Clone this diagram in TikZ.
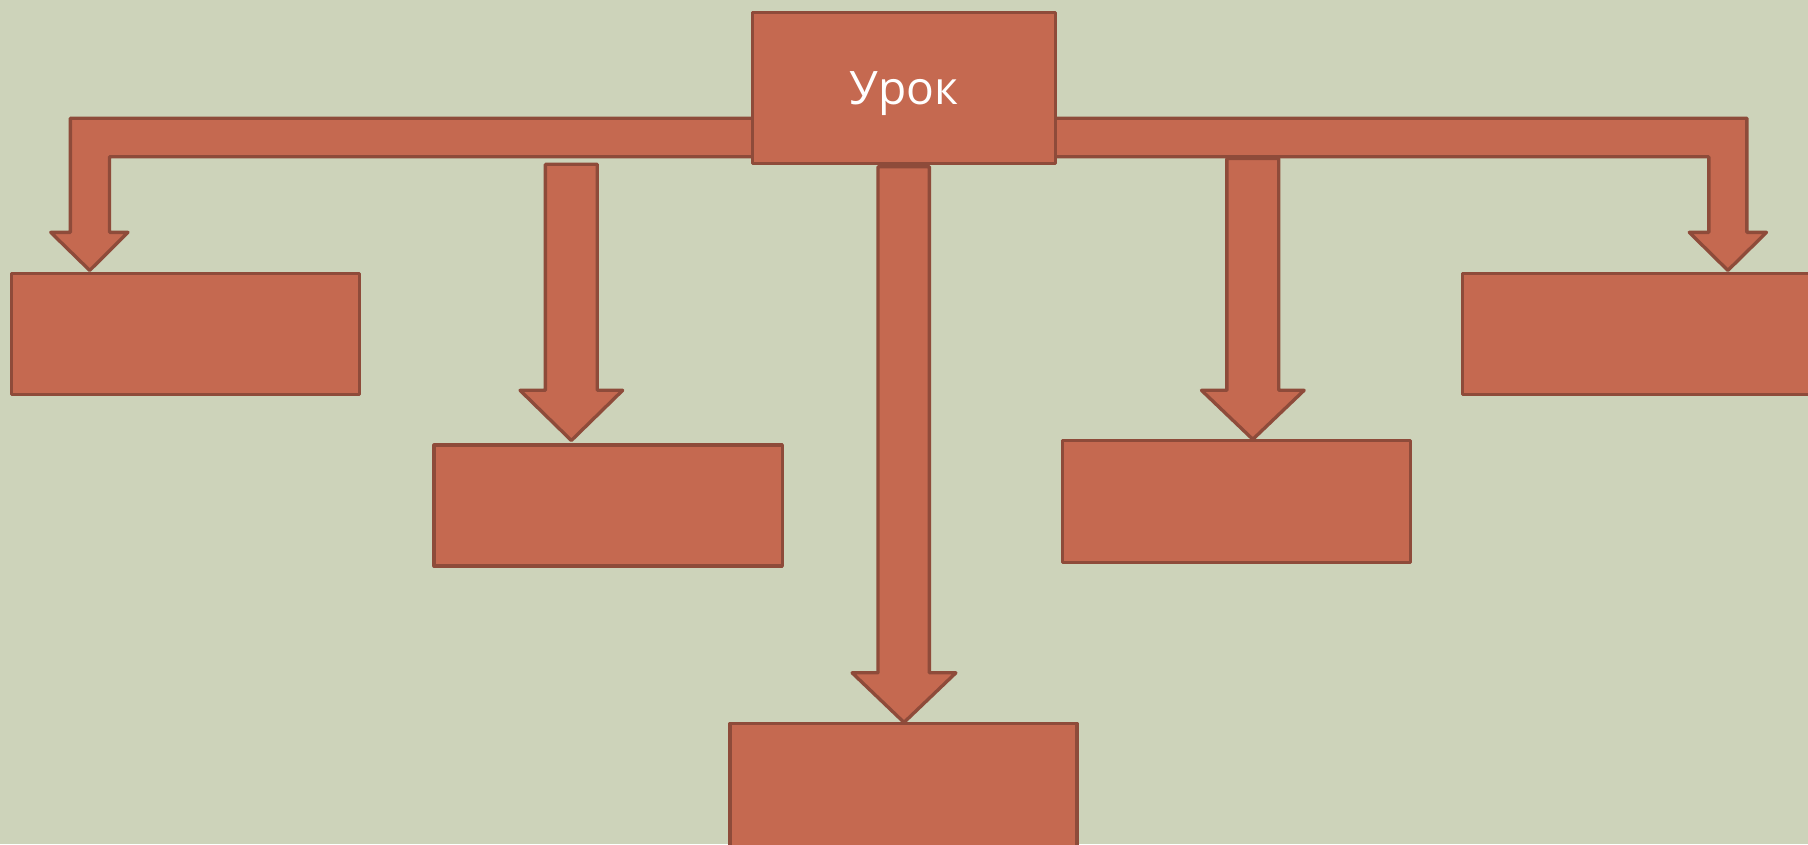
\documentclass[tikz,border=0pt]{standalone}
\usepackage{fontspec}
\setmainfont{Open Sans}
\definecolor{bgsage}{HTML}{CDD3BA}
\definecolor{boxfill}{HTML}{C56950}
\definecolor{boxline}{HTML}{8E4B3A}
\begin{document}
\begin{tikzpicture}[x=1pt,y=-1pt,
  shapestyle/.style={fill=boxfill,draw=boxline,line width=2.9pt,line join=round},
  box/.style={shapestyle,rectangle,inner sep=0pt,outer sep=0pt,anchor=north west},
  title/.style={text=white,inner sep=0pt,anchor=base,font=\fontsize{40}{44}\selectfont}]
\fill[bgsage] (0,0) rectangle (1568,732);
\useasboundingbox (0,0) rectangle (1568,732);
% lower boxes
\node[box,minimum width=302pt,minimum height=105pt] (b1) at (10,237) {};
\node[box,minimum width=302pt,minimum height=105pt] (b2) at (376.5,386) {};
\node[box,minimum width=301pt,minimum height=140pt] (b3) at (633,627.5) {};
\node[box,minimum width=302pt,minimum height=106pt] (b4) at (921.5,382) {};
\node[box,minimum width=320pt,minimum height=105pt] (b5) at (1268.5,237) {};
% straight arrows
\draw[shapestyle] (473,142.5) -- (518,142.5) -- (518,338.5) -- (540,338.5) -- (495.5,382) -- (451,338.5) -- (473,338.5) -- cycle;
\draw[shapestyle] (1064,137.5) -- (1109,137.5) -- (1109,338.5) -- (1131,338.5) -- (1086.5,381) -- (1042,338.5) -- (1064,338.5) -- cycle;
\draw[shapestyle] (761.5,144.5) -- (806,144.5) -- (806,583.5) -- (829,583.5) -- (784,626.5) -- (739,583.5) -- (761.5,583.5) -- cycle;
% bent arrows
\draw[shapestyle] (700,102.6) -- (61,102.6) -- (61,201.5) -- (44,201.5) -- (77.8,234.5) -- (111,201.5) -- (95,201.5) -- (95,136) -- (700,136) -- cycle;
\draw[shapestyle] (870,102.6) -- (1515,102.6) -- (1515,201.5) -- (1532,201.5) -- (1498.5,234.5) -- (1465,201.5) -- (1482,201.5) -- (1482,136) -- (870,136) -- cycle;
% top box
\node[box,minimum width=263pt,minimum height=131pt] (top) at (652.5,11) {};
\node[title] (toptext) at (784,91) {Урок};
\end{tikzpicture}
\end{document}
